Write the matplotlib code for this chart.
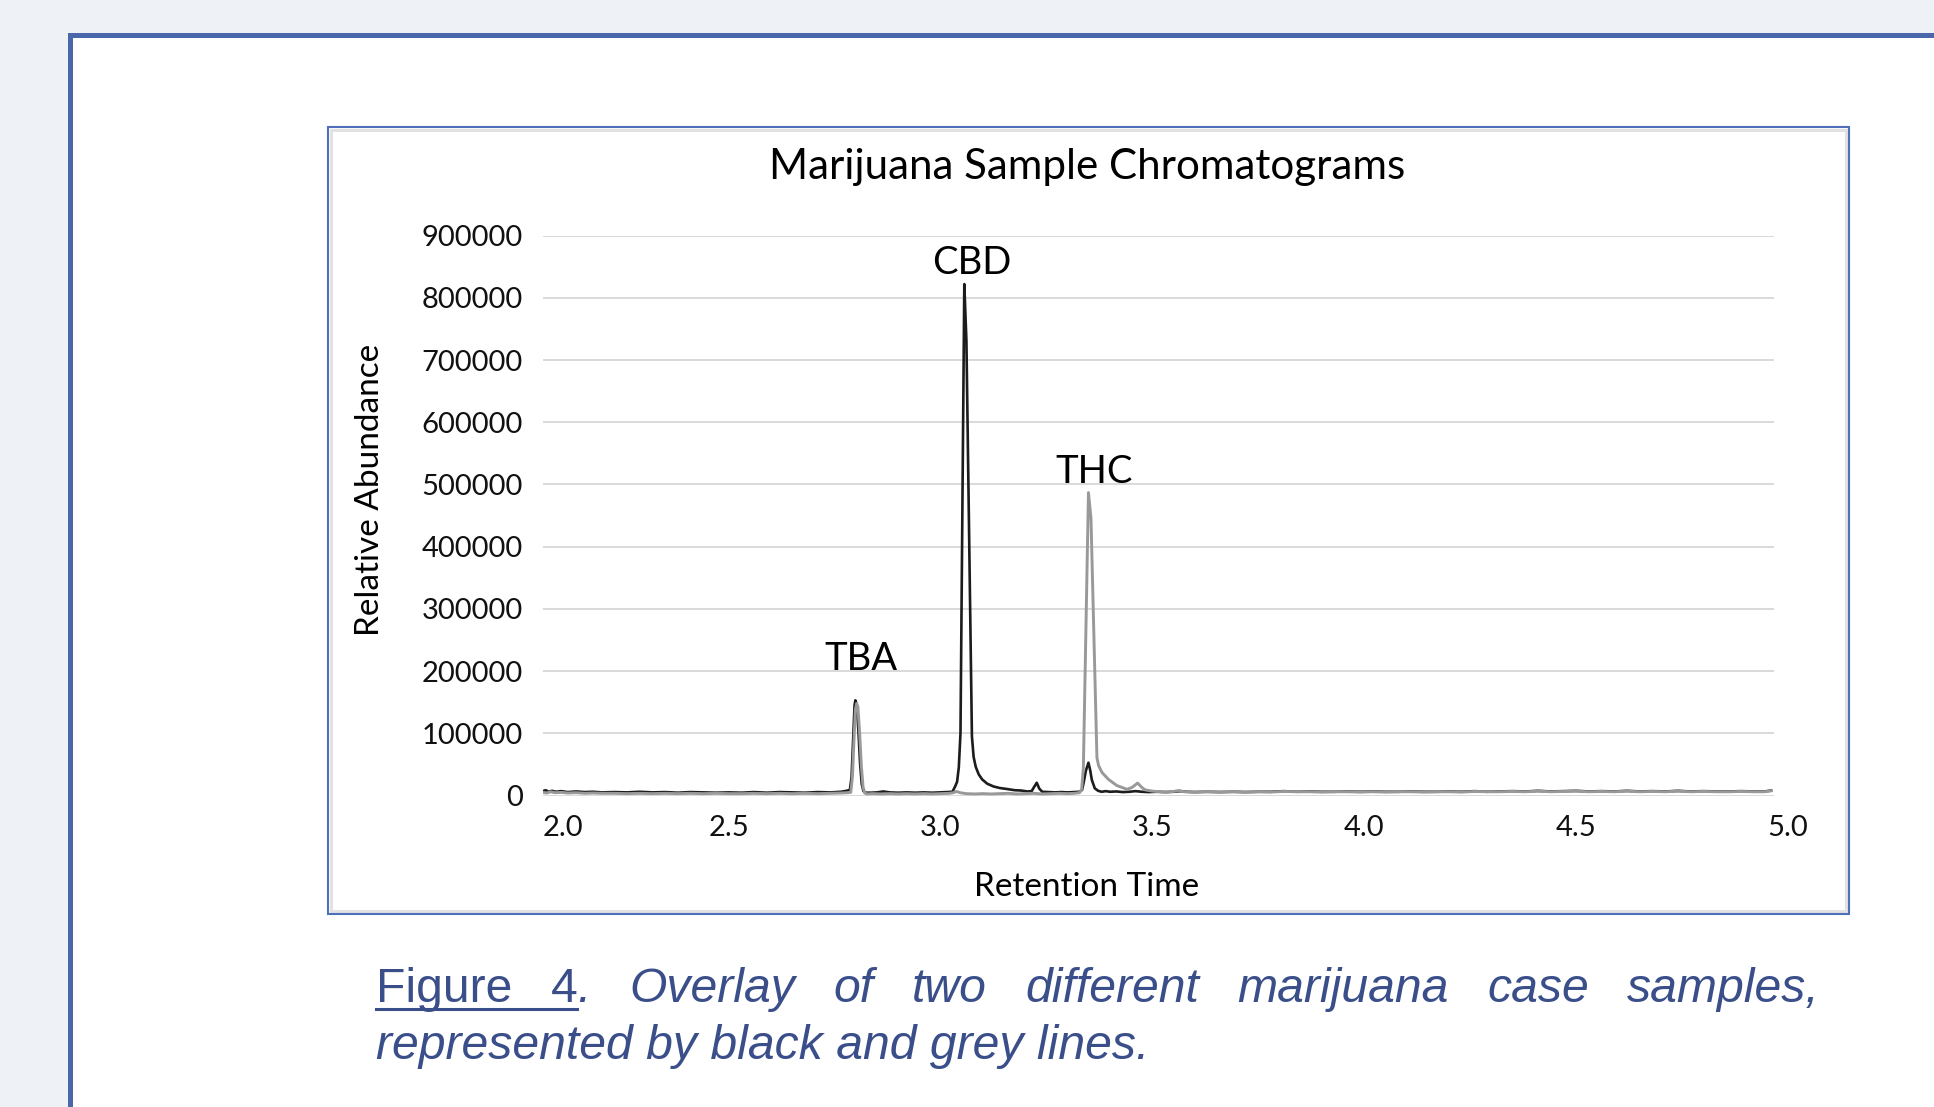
import matplotlib
matplotlib.use('Agg')
import matplotlib.pyplot as plt
from matplotlib.patches import Rectangle
from matplotlib.lines import Line2D
from matplotlib.transforms import blended_transform_factory

W, H, DPI = 1934, 1107, 100

# ---------------- data ----------------
black_time = [
    2.061, 2.068, 2.075, 2.083, 2.092, 2.105, 2.12, 2.14, 2.16, 2.18,
    2.20, 2.23, 2.26, 2.29, 2.32, 2.35, 2.38, 2.41, 2.44, 2.47,
    2.50, 2.53, 2.56, 2.59, 2.62, 2.65, 2.68, 2.71, 2.74, 2.765,
    2.778, 2.786,
    2.790, 2.794, 2.797, 2.799, 2.802, 2.806, 2.810, 2.814, 2.818, 2.823,
    2.835, 2.85, 2.865, 2.88, 2.90, 2.92, 2.94, 2.96, 2.98, 3.00, 3.015, 3.028,
    3.034, 3.039, 3.043, 3.047, 3.056, 3.061, 3.074, 3.078, 3.083, 3.090,
    3.098, 3.110, 3.125, 3.140, 3.156, 3.175, 3.190, 3.205, 3.215, 3.221,
    3.227, 3.233, 3.240,
    3.255, 3.27, 3.285, 3.30, 3.315, 3.328,
    3.334, 3.338, 3.343, 3.349, 3.353, 3.357, 3.364, 3.372, 3.38, 3.39, 3.40,
    3.415, 3.43, 3.445, 3.46, 3.475, 3.49, 3.51, 3.53, 3.55, 3.565,
    3.58, 3.60, 3.63, 3.66, 3.69, 3.72, 3.75, 3.78, 3.81, 3.84,
    3.87, 3.90, 3.93, 3.96, 3.99, 4.02, 4.05, 4.08, 4.11, 4.14,
    4.17, 4.20, 4.23, 4.26, 4.29, 4.32, 4.35, 4.38, 4.41, 4.44,
    4.47, 4.50, 4.53, 4.56, 4.59, 4.62, 4.65, 4.68, 4.71, 4.74,
    4.77, 4.80, 4.83, 4.86, 4.89, 4.92, 4.945, 4.96,
]
black_abundance = [
    7000, 8500, 6000, 7500, 6000, 7000, 5500, 6500, 5500, 6000,
    5000, 5500, 5000, 6000, 5000, 5500, 4500, 5500, 5000, 4500,
    5000, 4500, 5500, 4500, 5500, 5000, 4500, 5500, 5000, 6000,
    7500, 9000,
    30000, 95000, 145000, 153000, 147000, 105000, 52000, 18000, 7000, 4500,
    4500, 5000, 6500, 5000, 4500, 5000, 4500, 5000, 4500, 5000, 5500, 6000,
    14000, 22000, 45000, 100000, 822000, 731000, 95000, 62000, 46000, 34000,
    26000, 19000, 14500, 12000, 10500, 8500, 8000, 6500, 7000, 14000,
    20500, 11000, 6000,
    5500, 5000, 5500, 5000, 5500, 6000,
    9000, 22000, 40000, 52700, 41000, 25000, 11500, 7500, 6000, 7000, 6000,
    6500, 5500, 6000, 7000, 6000, 5500, 6000, 5500, 6000, 7000,
    6000, 5500, 6000, 5500, 6000, 5500, 6000, 6000, 7000, 6000,
    6500, 6000, 6000, 6500, 6000, 6500, 6000, 6000, 6500, 6000,
    6000, 6500, 6000, 7000, 6000, 6500, 7000, 6500, 7500, 6500,
    7000, 7500, 6500, 7000, 6500, 7500, 6500, 7000, 6500, 7500,
    6500, 7000, 6500, 6500, 7000, 6500, 6500, 8000,
]

grey_time = [
    2.061, 2.07, 2.08, 2.09, 2.105, 2.12, 2.14, 2.16, 2.18, 2.20,
    2.23, 2.26, 2.29, 2.32, 2.35, 2.38, 2.41, 2.44, 2.47, 2.50,
    2.53, 2.56, 2.59, 2.62, 2.65, 2.68, 2.71, 2.74, 2.765, 2.78, 2.788,
    2.792, 2.796, 2.799, 2.802, 2.805, 2.809, 2.813, 2.817, 2.821, 2.826,
    2.84, 2.86, 2.88, 2.90, 2.92, 2.94, 2.96, 2.98, 3.00, 3.02,
    3.03, 3.038, 3.046, 3.06, 3.08, 3.10, 3.12, 3.14, 3.16, 3.18,
    3.20, 3.22, 3.24, 3.26, 3.28, 3.30, 3.315, 3.328,
    3.333, 3.337, 3.349, 3.355, 3.369, 3.373, 3.381, 3.396, 3.416, 3.44,
    3.452, 3.465, 3.475, 3.483, 3.50, 3.52, 3.534, 3.55, 3.562, 3.575,
    3.60, 3.63, 3.66, 3.69, 3.72, 3.75, 3.78, 3.81, 3.84, 3.87,
    3.90, 3.93, 3.96, 3.99, 4.02, 4.05, 4.08, 4.11, 4.14, 4.17,
    4.20, 4.23, 4.26, 4.29, 4.32, 4.35, 4.38, 4.41, 4.44, 4.47,
    4.50, 4.53, 4.56, 4.59, 4.62, 4.65, 4.68, 4.71, 4.74, 4.77,
    4.80, 4.83, 4.86, 4.89, 4.92, 4.945, 4.96,
]
grey_abundance = [
    5000, 4000, 6000, 4500, 5000, 4000, 4500, 3500, 4000, 3500,
    3500, 3000, 3500, 3000, 3500, 3000, 3500, 3000, 3500, 3000,
    3000, 3500, 3000, 3500, 3000, 3500, 3000, 3500, 4000, 4500, 5000,
    30000, 95000, 138000, 148000, 142000, 100000, 48000, 14000, 4000, 2500,
    3000, 2500, 3000, 2500, 3000, 2500, 3000, 2500, 3000, 3500,
    4500, 6500, 4500, 3000, 2500, 3000, 2500, 3000, 3500, 2500,
    3000, 3500, 2500, 3000, 3500, 3000, 3500, 4500,
    10000, 45000, 487000, 445000, 61000, 48000, 37000, 26000, 16000, 10000,
    13000, 20000, 13000, 9000, 7000, 6000, 5500, 6500, 8000, 6000,
    5500, 6000, 5500, 6000, 5500, 6000, 5500, 6500, 6000, 6000,
    5500, 6000, 6000, 5500, 6000, 5500, 6000, 6000, 5500, 6000,
    6000, 5500, 6500, 6000, 6000, 6500, 6000, 7000, 6000, 6500,
    7000, 6000, 6500, 6000, 7000, 6000, 6500, 6000, 7000, 6000,
    6500, 6000, 6000, 6500, 6000, 6000, 7500,
]

y_ticks = [0, 100000, 200000, 300000, 400000, 500000, 600000, 700000, 800000, 900000]
y_tick_labels = [str(v) for v in y_ticks]
x_tick_values = [2.0, 2.5, 3.0, 3.5, 4.0, 4.5, 5.0]
x_tick_labels = ['2.0', '2.5', '3.0', '3.5', '4.0', '4.5', '5.0']
peak_names = ['TBA', 'CBD', 'THC']
peak_label_time = [2.812, 3.074, 3.362]
peak_label_abund = [201800, 838400, 501600]

assert len(black_time) == len(black_abundance)
assert len(grey_time) == len(grey_abundance)

# ---------------- figure ----------------
FONT = ['Lato', 'DejaVu Sans']
plt.rcParams['font.family'] = FONT

fig = plt.figure(figsize=(W / DPI, H / DPI), dpi=DPI)
fig.patch.set_facecolor('#EEF2F7')

def fx(px):
    return px / W

def fy(py):
    return 1 - py / H

# outer page box
fig.add_artist(Rectangle((fx(70), fy(H + 30)), fx(W + 60 - 70), (H + 30 - 35) / H,
                         transform=fig.transFigure, facecolor='white',
                         edgecolor='#4A67AC', lw=3.6, zorder=0))
# chart frame
fig.add_artist(Rectangle((fx(331), fy(911)), fx(1846 - 331), (911 - 130) / H,
                         transform=fig.transFigure, facecolor='white',
                         edgecolor='#E2E2E2', lw=2.2, zorder=1))
fig.add_artist(Rectangle((fx(328), fy(914)), fx(1849 - 328), (914 - 127) / H,
                         transform=fig.transFigure, facecolor='none',
                         edgecolor='#4F6FB8', lw=1.5, zorder=2))

ax_left, ax_right, ax_top, ax_bottom = 542.7, 1773.6, 235.6, 795.5
ax = fig.add_axes([fx(ax_left), fy(ax_bottom), fx(ax_right - ax_left),
                   (ax_bottom - ax_top) / H])
ax.set_zorder(3)
ax.patch.set_visible(False)
for s in ax.spines.values():
    s.set_visible(False)

ax.plot(black_time, black_abundance, color='#1C1C1C', lw=1.9,
        solid_joinstyle='round', zorder=3)
ax.plot(grey_time, grey_abundance, color='#999999', lw=2.1,
        solid_joinstyle='round', zorder=4)

ax.set_xlim(2.061, 4.966)
ax.set_ylim(0, 900000)
ax.set_yticks(y_ticks)
ax.set_yticklabels(y_tick_labels)
ax.tick_params(axis='y', length=0, pad=14.4, labelsize=21, labelcolor='#111111')
ax.yaxis.grid(True, color='#D9D9D9', lw=1.4)
ax.set_axisbelow(True)
ax.set_xticks([])

# x tick labels
trans = blended_transform_factory(ax.transData, ax.transAxes)
ylab = (ax_bottom - 836) / (ax_bottom - ax_top)
xmin = ax.get_xlim()[0]
for v, lab in zip(x_tick_values, x_tick_labels):
    if v < xmin:
        ax.text(xmin, ylab, lab, transform=trans, ha='left', va='baseline',
                fontsize=21, color='#111111', clip_on=False)
    else:
        ax.text(v, ylab, lab, transform=trans, ha='center', va='baseline',
                fontsize=21, color='#111111', clip_on=False)

# peak labels
for name, t, a in zip(peak_names, peak_label_time, peak_label_abund):
    ax.text(t, a, name, ha='center', va='baseline', fontsize=27.5,
            color='black', clip_on=False, zorder=6)

# titles
fig.text(fx(1087), fy(179.5), 'Marijuana Sample Chromatograms', ha='center',
         va='baseline', fontsize=30.3, color='black', zorder=5)
fig.text(fx(1087), fy(896), 'Retention Time', ha='center', va='baseline',
         fontsize=24, color='black', zorder=5)
fig.text(fx(370), fy(490), 'Relative Abundance', ha='center', va='center',
         rotation=90, fontsize=24, color='black', zorder=5)

# ---------------- caption (justified) ----------------
CAP_COLOR = '#3A4E8A'
CAP_FONT = ['Liberation Sans', 'DejaVu Sans']
CAP_SIZE = 34.7
renderer = fig.canvas.get_renderer()

line1 = [[('Figure', 'normal')], [('4', 'normal'), ('.', 'italic')],
         [('Overlay', 'italic')], [('of', 'italic')], [('two', 'italic')],
         [('different', 'italic')], [('marijuana', 'italic')],
         [('case', 'italic')], [('samples,', 'italic')]]
x_l, x_r = 376, 1820
base1, base2 = 1002, 1059

def make(s, style, x, y):
    return fig.text(fx(x), fy(y), s, ha='left', va='baseline', fontsize=CAP_SIZE,
                    style=style, family=CAP_FONT, color=CAP_COLOR, zorder=5)

groups = []
for g in line1:
    parts = []
    for s, st in g:
        t = make(s, st, 0, base1)
        w = t.get_window_extent(renderer).width
        parts.append((t, w))
    groups.append(parts)
total = sum(w for g in groups for _, w in g)
gap = (x_r - x_l - total) / (len(groups) - 1)
x = x_l
underline_end = None
for i, g in enumerate(groups):
    for t, w in g:
        t.set_x(fx(x))
        x += w
        if i == 1 and underline_end is None:
            underline_end = x
    x += gap
fig.add_artist(Line2D([fx(x_l), fx(underline_end)], [fy(base1 + 7), fy(base1 + 7)],
                      transform=fig.transFigure, color=CAP_COLOR, lw=2.2, zorder=5))
make('represented by black and grey lines.', 'italic', x_l, base2)

fig.savefig('out.png', dpi=DPI, facecolor=fig.get_facecolor())
